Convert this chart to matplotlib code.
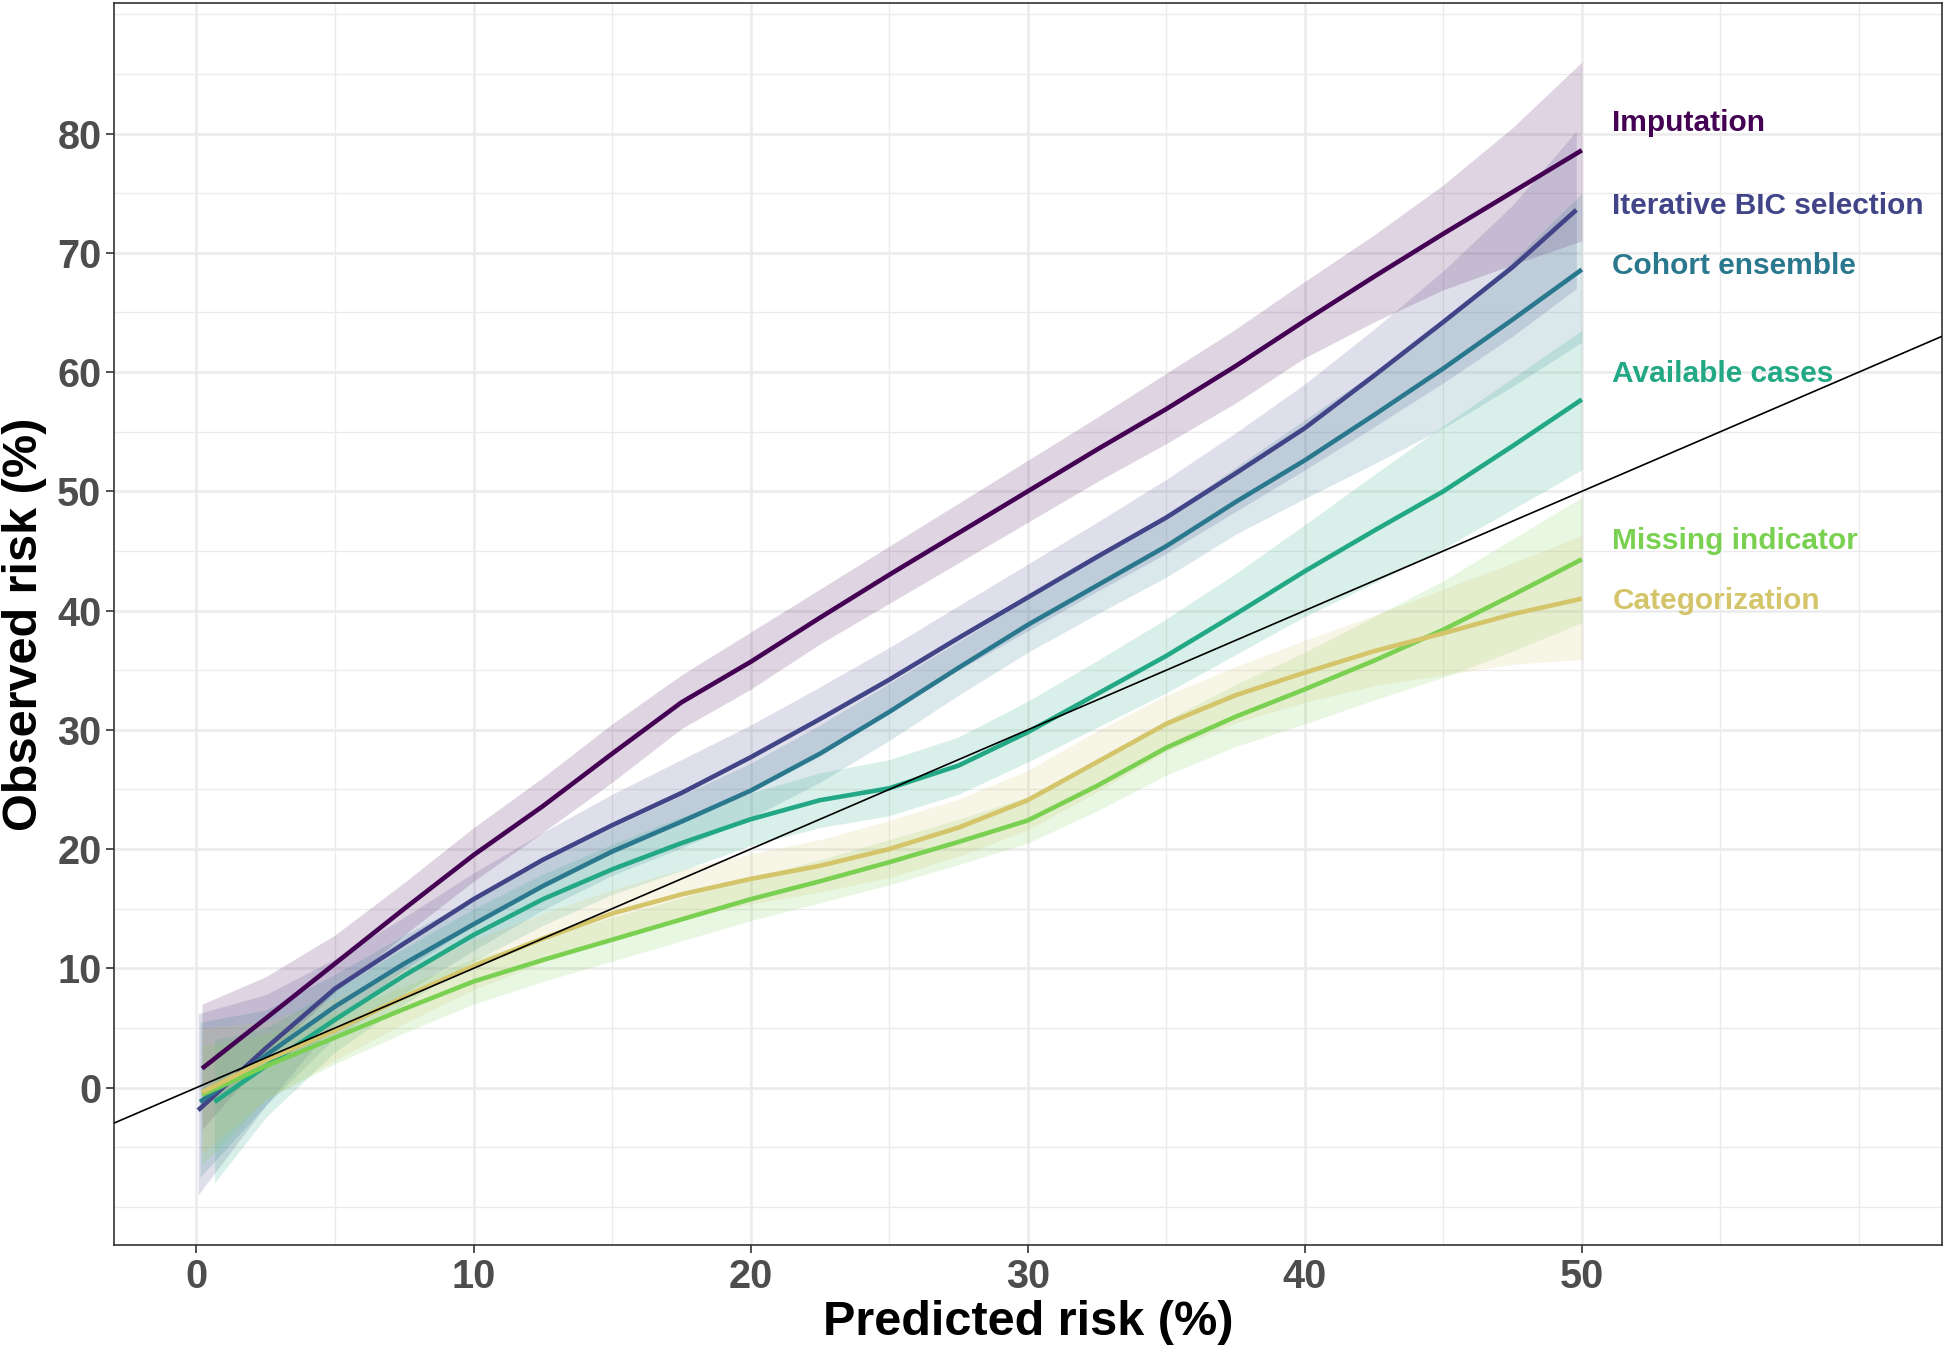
import matplotlib
matplotlib.use("Agg")
import matplotlib.pyplot as plt

plt.rcParams["font.family"] = ["Liberation Sans", "DejaVu Sans"]
plt.rcParams["font.weight"] = "bold"

# predicted risk grid (%)
X = [2.5, 5, 7.5, 10, 12.5, 15, 17.5, 20, 22.5, 25, 27.5, 30, 32.5, 35, 37.5, 40, 42.5, 45, 47.5]

names = ["Imputation", "Iterative BIC selection", "Cohort ensemble",
         "Available cases", "Missing indicator", "Categorization"]
colors = ["#440154", "#414487", "#2A788E", "#22A884", "#7AD151", "#D4C46A"]

x_start = [0.2, 0.06, 0.13, 0.65, 0.2, 0.2]
x_end = [50, 49.8, 50, 50, 50, 50]

imp_mid = [1.6, 5.8, 10.4, 15.0, 19.5, 23.6, 28.0, 32.3, 35.7, 39.4, 43.0, 46.5, 50.0, 53.5, 56.9, 60.5, 64.3, 68.0, 71.6, 75.1, 78.6]
imp_lo = [-3.5, 2.5, 8.0, 12.8, 17.3, 21.4, 25.6, 30.1, 33.4, 37.2, 40.6, 44.0, 47.4, 50.8, 54.0, 57.4, 61.2, 64.2, 66.9, 69.0, 71.0]
imp_hi = [7.0, 9.3, 12.8, 17.2, 21.8, 26.0, 30.5, 34.6, 38.2, 41.8, 45.4, 49.0, 52.6, 56.2, 59.9, 63.6, 67.6, 71.5, 75.7, 80.5, 86.0]

bic_mid = [-1.9, 3.3, 8.3, 12.1, 15.8, 19.1, 22.0, 24.7, 27.7, 30.9, 34.2, 37.7, 41.1, 44.5, 47.8, 51.5, 55.3, 59.7, 64.2, 68.8, 73.6]
bic_lo = [-9.0, -1.5, 5.5, 9.9, 13.6, 16.9, 19.6, 22.2, 25.0, 28.2, 31.5, 35.0, 38.3, 41.6, 44.8, 48.3, 51.8, 55.4, 59.1, 63.0, 67.0]
bic_hi = [6.2, 7.8, 10.8, 14.3, 18.0, 21.4, 24.6, 27.5, 30.4, 33.6, 36.9, 40.4, 43.9, 47.4, 51.0, 54.9, 59.0, 63.6, 68.5, 74.0, 80.2]

coh_mid = [-1.2, 2.7, 6.8, 10.4, 13.7, 16.9, 19.8, 22.3, 24.9, 28.0, 31.5, 35.2, 38.8, 42.1, 45.4, 49.1, 52.6, 56.4, 60.3, 64.4, 68.6]
coh_lo = [-7.5, -1.5, 4.2, 7.9, 11.5, 14.9, 17.8, 20.1, 22.6, 25.6, 29.1, 32.9, 36.5, 39.7, 42.8, 46.4, 49.4, 52.3, 55.3, 58.8, 62.5]
coh_hi = [5.5, 6.5, 9.5, 12.8, 15.8, 18.9, 21.8, 24.5, 27.2, 30.4, 33.9, 37.4, 41.0, 44.5, 48.0, 52.0, 56.0, 60.0, 64.3, 69.3, 75.0]

ac_mid = [-1.2, 1.8, 5.7, 9.4, 12.8, 15.8, 18.3, 20.5, 22.5, 24.1, 25.1, 27.0, 29.8, 33.0, 36.2, 39.7, 43.3, 46.7, 50.0, 53.8, 57.7]
ac_lo = [-8.0, -2.5, 3.0, 7.0, 10.6, 13.6, 16.2, 18.2, 20.3, 21.8, 22.8, 24.6, 27.3, 30.2, 33.1, 36.3, 39.5, 42.3, 45.2, 48.5, 51.8]
ac_hi = [4.0, 5.0, 8.2, 11.7, 15.0, 17.9, 20.4, 22.7, 24.7, 26.4, 27.5, 29.4, 32.4, 35.8, 39.3, 43.1, 47.2, 51.4, 55.5, 59.5, 63.5]

mi_mid = [-0.6, 1.8, 4.2, 6.6, 8.9, 10.7, 12.4, 14.1, 15.8, 17.3, 18.9, 20.6, 22.4, 25.3, 28.5, 31.1, 33.4, 35.8, 38.4, 41.3, 44.3]
mi_lo = [-6.5, -1.0, 2.0, 4.6, 7.0, 8.9, 10.6, 12.3, 14.0, 15.5, 17.0, 18.7, 20.5, 23.2, 26.2, 28.6, 30.5, 32.5, 34.4, 36.6, 39.0]
mi_hi = [3.5, 4.5, 6.3, 8.5, 10.8, 12.5, 14.3, 15.9, 17.6, 19.1, 20.8, 22.5, 24.4, 27.5, 30.8, 33.8, 36.5, 39.5, 42.5, 46.0, 49.5]

cat_mid = [-0.4, 2.3, 4.8, 7.6, 10.2, 12.5, 14.6, 16.2, 17.5, 18.6, 20.0, 21.8, 24.1, 27.3, 30.5, 32.9, 34.8, 36.6, 38.1, 39.7, 41.0]
cat_lo = [-5.5, -1.0, 2.3, 5.4, 8.2, 10.5, 12.6, 14.2, 15.4, 16.4, 17.6, 19.4, 21.6, 24.8, 28.2, 30.6, 32.3, 33.7, 34.6, 35.5, 35.9]
cat_hi = [5.0, 5.5, 7.5, 10.0, 12.4, 14.6, 16.6, 18.3, 19.6, 20.8, 22.4, 24.2, 26.6, 29.9, 32.9, 35.3, 37.5, 39.6, 41.8, 44.0, 46.3]

mids = [imp_mid, bic_mid, coh_mid, ac_mid, mi_mid, cat_mid]
los = [imp_lo, bic_lo, coh_lo, ac_lo, mi_lo, cat_lo]
his = [imp_hi, bic_hi, coh_hi, ac_hi, mi_hi, cat_hi]

label_y = [80.9, 73.9, 68.9, 59.8, 45.8, 40.8]
label_x = 51.1

fig = plt.figure(figsize=(19.44, 13.53), dpi=100)
ax = fig.add_axes([0.0586, 0.0798, 0.9404, 0.918])
ax.set_xlim(-2.98, 63.0)
ax.set_ylim(-13.2, 90.95)

# grid: major at labelled breaks, minor everywhere else on a 5-unit lattice
for v in range(-10, 95, 5):
    ax.axhline(v, color="#EBEBEB", lw=1.8 if (v % 10 == 0 and 0 <= v <= 80) else 1.0, zorder=0)
for v in range(0, 65, 5):
    ax.axvline(v, color="#EBEBEB", lw=1.8 if (v % 10 == 0 and v <= 50) else 1.0, zorder=0)

for i in range(len(names)):
    xs = [x_start[i]] + X + [x_end[i]]
    ax.fill_between(xs, los[i], his[i], color=colors[i], alpha=0.17, lw=0, zorder=1)

for i in range(len(names)):
    xs = [x_start[i]] + X + [x_end[i]]
    ax.plot(xs, mids[i], color=colors[i], lw=3.3, zorder=3, solid_capstyle="butt",
            solid_joinstyle="round")
    ax.text(label_x, label_y[i], names[i], color=colors[i], fontsize=21.5,
            fontweight="bold", va="center", ha="left")

ax.axline((0, 0), slope=1, color="black", lw=1.2, zorder=4)

ax.set_xticks([0, 10, 20, 30, 40, 50])
ax.set_yticks([0, 10, 20, 30, 40, 50, 60, 70, 80])
ax.tick_params(axis="both", labelsize=28.5, labelcolor="#4D4D4D", color="#333333",
               length=6, width=1.2, pad=3)
for lab in ax.get_xticklabels() + ax.get_yticklabels():
    lab.set_fontweight("bold")
for s in ax.spines.values():
    s.set_color("#333333")
    s.set_linewidth(1.2)

ax.set_xlabel("Predicted risk (%)", fontsize=35, fontweight="bold", color="black")
ax.set_ylabel("Observed risk (%)", fontsize=35, fontweight="bold", color="black")
ax.xaxis.set_label_coords(0.5, -0.062)
ax.xaxis.label.set_va("center")
ax.yaxis.set_label_coords(-0.0487, 0.5)
ax.yaxis.label.set_va("center")

fig.savefig("out.png", dpi=100)
